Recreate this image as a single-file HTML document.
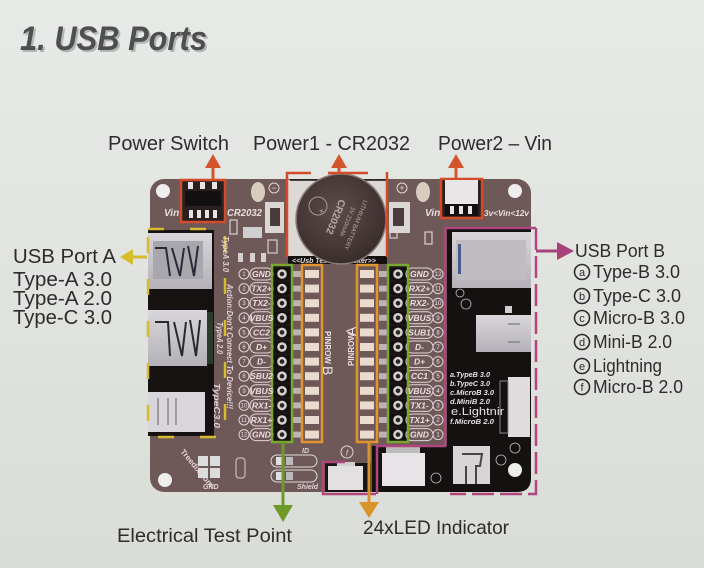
<!DOCTYPE html>
<html><head><meta charset="utf-8"><style>
html,body{margin:0;padding:0;background:#e3e5e2;}
svg{display:block;}
text{font-family:"Liberation Sans",Arial,sans-serif;}
</style></head><body>
<svg width="704" height="568" viewBox="0 0 704 568" xmlns="http://www.w3.org/2000/svg">
<defs>
<linearGradient id="bg" x1="0" y1="0" x2="0" y2="1"><stop offset="0" stop-color="#e8eae7"/><stop offset="1" stop-color="#dadcd8"/></linearGradient>
<linearGradient id="silver" x1="0" y1="0" x2="0" y2="1"><stop offset="0" stop-color="#d8d6da"/><stop offset="1" stop-color="#b4b2b8"/></linearGradient>
<radialGradient id="coin" cx="0.45" cy="0.4" r="0.6"><stop offset="0" stop-color="#5c4c4a"/><stop offset="1" stop-color="#3a2e2d"/></radialGradient>
<g id="rowL">
 <rect x="273" y="-6" width="18" height="12" fill="#151111"/>
 <circle cx="282" cy="0" r="4.8" fill="#d4d2cc"/><circle cx="282" cy="0" r="2.3" fill="#2a2424"/>
 <rect x="292" y="-3" width="9" height="6" fill="#bcb4b4"/>
 <rect x="305" y="-4" width="14" height="8" fill="#e9dccf"/>
</g>
<g id="rowR">
 <rect x="360" y="-4" width="14" height="8" fill="#e9dccf"/>
 <rect x="379" y="-3" width="9" height="6" fill="#bcb4b4"/>
 <rect x="389" y="-6" width="18" height="12" fill="#151111"/>
 <circle cx="398" cy="0" r="4.8" fill="#d4d2cc"/><circle cx="398" cy="0" r="2.3" fill="#2a2424"/>
</g>
<g id="pillL" fill="none" stroke="#e2d4d8" stroke-width="1">
 <circle cx="244" cy="0" r="5"/><rect x="250" y="-6" width="23" height="12" rx="6"/>
</g>
<g id="pillR" fill="none" stroke="#e2d4d8" stroke-width="1">
 <rect x="406" y="-6" width="27" height="12" rx="6"/><circle cx="438" cy="0" r="5"/>
</g>
</defs>

<rect x="0" y="0" width="704" height="568" fill="url(#bg)"/>

<!-- Title -->
<text x="22" y="52" font-size="34" font-weight="bold" font-style="italic" fill="#b4b6b4" textLength="187" lengthAdjust="spacingAndGlyphs">1. USB Ports</text>
<text x="20" y="50" font-size="34" font-weight="bold" font-style="italic" fill="#4e4f4f" textLength="187" lengthAdjust="spacingAndGlyphs">1. USB Ports</text>

<!-- Top labels -->
<g fill="#2c2c2c" font-size="20">
<text x="108" y="150" textLength="121" lengthAdjust="spacingAndGlyphs">Power Switch</text>
<text x="253" y="150" textLength="157" lengthAdjust="spacingAndGlyphs">Power1 - CR2032</text>
<text x="438" y="150" textLength="114" lengthAdjust="spacingAndGlyphs">Power2 – Vin</text>
<text x="13" y="263" textLength="103" lengthAdjust="spacingAndGlyphs">USB Port A</text>
<text x="13" y="286" textLength="99" lengthAdjust="spacingAndGlyphs">Type-A 3.0</text>
<text x="13" y="305" textLength="99" lengthAdjust="spacingAndGlyphs">Type-A 2.0</text>
<text x="13" y="324" textLength="99" lengthAdjust="spacingAndGlyphs">Type-C 3.0</text>
</g>
<g fill="#2c2c2c" font-size="18">
<text x="575" y="257" textLength="90" lengthAdjust="spacingAndGlyphs">USB Port B</text>
<text x="593" y="278" textLength="87" lengthAdjust="spacingAndGlyphs">Type-B 3.0</text>
<text x="593" y="302" textLength="88" lengthAdjust="spacingAndGlyphs">Type-C 3.0</text>
<text x="593" y="324" textLength="92" lengthAdjust="spacingAndGlyphs">Micro-B 3.0</text>
<text x="593" y="348" textLength="79" lengthAdjust="spacingAndGlyphs">Mini-B 2.0</text>
<text x="593" y="372" textLength="69" lengthAdjust="spacingAndGlyphs">Lightning</text>
<text x="593" y="393" textLength="90" lengthAdjust="spacingAndGlyphs">Micro-B 2.0</text>
</g>
<g fill="none" stroke="#2c2c2c" stroke-width="1.6">
<circle cx="582" cy="272" r="7.5"/><circle cx="582" cy="296" r="7.5"/><circle cx="582" cy="318" r="7.5"/>
<circle cx="582" cy="342" r="7.5"/><circle cx="582" cy="366" r="7.5"/><circle cx="582" cy="387" r="7.5"/>
</g>
<g fill="#2c2c2c" font-size="11" text-anchor="middle">
<text x="582" y="276">a</text><text x="582" y="300">b</text><text x="582" y="322">c</text>
<text x="582" y="346">d</text><text x="582" y="370">e</text><text x="582" y="391">f</text>
</g>
<g fill="#2c2c2c" font-size="19">
<text x="117" y="542" textLength="175" lengthAdjust="spacingAndGlyphs">Electrical Test Point</text>
<text x="363" y="534" textLength="146" lengthAdjust="spacingAndGlyphs">24xLED Indicator</text>
</g>

<!-- Board -->
<rect x="150" y="179" width="381" height="313" rx="14" fill="#6f5858"/>

<!-- holes & pads -->
<circle cx="163" cy="191" r="7" fill="#eeeeec"/>
<circle cx="515" cy="191" r="7" fill="#eeeeec"/>
<circle cx="165" cy="480" r="7" fill="#eeeeec"/>
<ellipse cx="258" cy="192" rx="7" ry="10" fill="#d9cdbf"/>
<ellipse cx="423" cy="192" rx="7" ry="10" fill="#d9cdbf"/>
<circle cx="274" cy="188" r="5" fill="none" stroke="#e0d4d4" stroke-width="1"/>
<text x="274" y="191" font-size="9" fill="#e0d4d4" text-anchor="middle">−</text>
<circle cx="402" cy="188" r="5" fill="none" stroke="#e0d4d4" stroke-width="1"/>
<text x="402" y="191" font-size="9" fill="#e0d4d4" text-anchor="middle">+</text>

<!-- small SMDs -->
<g fill="none" stroke="#d8d0d0" stroke-width="1.2">
<rect x="230" y="220" width="7" height="14"/>
<rect x="268" y="240" width="9" height="13"/>
<rect x="390" y="226" width="7" height="12"/>
<rect x="425" y="232" width="7" height="12"/>
</g>
<rect x="243" y="227" width="19" height="11" fill="#cfcfd2"/>
<rect x="238" y="253" width="5" height="9" fill="#d4d0d0"/>
<rect x="250" y="253" width="5" height="9" fill="#d4d0d0"/>
<rect x="261" y="253" width="5" height="9" fill="#d4d0d0"/>

<!-- Power switch -->
<rect x="181" y="180" width="44" height="42" fill="#2a2020" stroke="#d24c2a" stroke-width="2.5"/>
<rect x="188" y="182" width="5" height="7" fill="#e6e4e4"/><rect x="200" y="182" width="5" height="7" fill="#e6e4e4"/><rect x="212" y="182" width="5" height="7" fill="#e6e4e4"/>
<rect x="185" y="191" width="36" height="15" fill="#121010"/>
<rect x="189" y="210" width="4" height="8" fill="#e6e4e4"/><rect x="197" y="210" width="4" height="8" fill="#e6e4e4"/><rect x="205" y="210" width="4" height="8" fill="#e6e4e4"/><rect x="213" y="210" width="4" height="8" fill="#e6e4e4"/>
<text x="164" y="216" font-size="10" font-weight="bold" font-style="italic" fill="#e8dede">Vin</text>
<text x="227" y="216" font-size="10" font-weight="bold" font-style="italic" fill="#e8dede" textLength="35" lengthAdjust="spacingAndGlyphs">CR2032</text>

<!-- Vin connector -->
<rect x="441" y="179" width="41" height="39" fill="#2a2020" stroke="#d24c2a" stroke-width="2.5"/>
<rect x="445" y="180" width="33" height="24" fill="#e8e6e6"/>
<rect x="445" y="204" width="33" height="12" fill="#121010"/>
<rect x="450" y="206" width="4" height="8" fill="#e6e4e4"/><rect x="459" y="206" width="4" height="8" fill="#e6e4e4"/><rect x="468" y="206" width="4" height="8" fill="#e6e4e4"/>
<text x="425" y="216" font-size="10" font-weight="bold" font-style="italic" fill="#e8dede">Vin</text>
<text x="484" y="216" font-size="8" font-weight="bold" font-style="italic" fill="#e8dede" textLength="45" lengthAdjust="spacingAndGlyphs">3v&lt;Vin&lt;12v</text>

<!-- Coin holder -->
<rect x="288" y="180" width="100" height="77" fill="#dcd8d6"/>
<line x1="290" y1="180" x2="386" y2="180" stroke="#1a1414" stroke-width="1.5"/>
<rect x="265" y="202" width="19" height="31" fill="#dad6d4"/><rect x="270" y="208" width="10" height="18" fill="#4a3c3c"/>
<rect x="389" y="202" width="21" height="31" fill="#dad6d4"/><rect x="393" y="208" width="11" height="18" fill="#4a3c3c"/>
<rect x="288" y="256" width="99" height="8" fill="#141010"/>
<text x="292" y="263" font-size="7" font-weight="bold" font-style="italic" fill="#e8e0e0">&lt;&lt;Usb Tester&gt;&gt;</text>
<text x="340" y="263" font-size="7" font-weight="bold" font-style="italic" fill="#e8e0e0">Checker&gt;&gt;</text>
<circle cx="341" cy="219" r="45" fill="url(#coin)" stroke="#8c7c78" stroke-width="1.5"/>
<g transform="rotate(112 341 219)" fill="#b9aaa6" text-anchor="middle">
<text x="341" y="205" font-size="6">LITHIUM BATTERY</text>
<text x="341" y="214" font-size="6">3V 210mAh</text>
<text x="341" y="228" font-size="10" font-weight="bold">CR2032</text>
<text x="341" y="243" font-size="9">+</text>
</g>
<circle cx="318" cy="206" r="9" fill="none" stroke="#a8988f" stroke-width="1"/>
<!-- red frame -->
<g fill="none" stroke="#d24c2a" stroke-width="2.5">
<polyline points="311,173 287,173 287,257"/>
<line x1="387" y1="172" x2="387" y2="257"/>
<line x1="328" y1="173" x2="368" y2="173"/>
</g>

<!-- Left USB block -->
<rect x="148" y="230" width="66" height="206" fill="#161212"/>
<rect x="148" y="233" width="64" height="56" fill="url(#silver)"/>
<rect x="153" y="241" width="50" height="38" fill="#a9a7ad"/>
<path d="M155 248 L166 248 L170 276 M172 248 L180 276 L184 248 M188 246 L194 276 L198 246" fill="none" stroke="#2a2a3a" stroke-width="2"/>
<rect x="148" y="310" width="59" height="56" fill="url(#silver)"/>
<path d="M155 322 L168 322 L170 356 M174 322 L182 356 L186 322 M190 320 L196 356 L200 320" fill="none" stroke="#2a2a2e" stroke-width="2"/>
<rect x="207" y="312" width="6" height="52" fill="#2b3a2b"/>
<rect x="148" y="392" width="57" height="40" fill="#d8d6da"/>
<path d="M158 398 L158 425 M168 398 L168 425 M176 398 L176 425" stroke="#8a888e" stroke-width="1.5"/>
<rect x="148" y="229" width="77" height="208" fill="none" stroke="#d6ba30" stroke-width="2.5" stroke-dasharray="16 26"/>
<g fill="#e0d2d6" font-size="8" font-weight="bold" font-style="italic">
<text transform="translate(223 236) rotate(90)" textLength="36" lengthAdjust="spacingAndGlyphs">TypeA 3.0</text>
<text transform="translate(227 284) rotate(90)" textLength="125" lengthAdjust="spacingAndGlyphs">Action:Don't Connect To Device!!!</text>
<text transform="translate(217 322) rotate(90)" textLength="32" lengthAdjust="spacingAndGlyphs">TypeA 2.0</text>
<text transform="translate(214 383) rotate(90)" textLength="45" lengthAdjust="spacingAndGlyphs">TypeC3.0</text>
</g>

<!-- Pin rows boxes -->
<rect x="272" y="265" width="20" height="177" fill="#1c1616"/>
<rect x="388" y="265" width="20" height="177" fill="#1c1616"/>
<use href="#rowL" y="274"/><use href="#rowL" y="288.6"/><use href="#rowL" y="303.2"/><use href="#rowL" y="317.8"/>
<use href="#rowL" y="332.4"/><use href="#rowL" y="347"/><use href="#rowL" y="361.6"/><use href="#rowL" y="376.2"/>
<use href="#rowL" y="390.8"/><use href="#rowL" y="405.4"/><use href="#rowL" y="420"/><use href="#rowL" y="434.6"/>
<use href="#rowR" y="274"/><use href="#rowR" y="288.6"/><use href="#rowR" y="303.2"/><use href="#rowR" y="317.8"/>
<use href="#rowR" y="332.4"/><use href="#rowR" y="347"/><use href="#rowR" y="361.6"/><use href="#rowR" y="376.2"/>
<use href="#rowR" y="390.8"/><use href="#rowR" y="405.4"/><use href="#rowR" y="420"/><use href="#rowR" y="434.6"/>
<use href="#pillL" y="274"/><use href="#pillL" y="288.6"/><use href="#pillL" y="303.2"/><use href="#pillL" y="317.8"/>
<use href="#pillL" y="332.4"/><use href="#pillL" y="347"/><use href="#pillL" y="361.6"/><use href="#pillL" y="376.2"/>
<use href="#pillL" y="390.8"/><use href="#pillL" y="405.4"/><use href="#pillL" y="420"/><use href="#pillL" y="434.6"/>
<use href="#pillR" y="274"/><use href="#pillR" y="288.6"/><use href="#pillR" y="303.2"/><use href="#pillR" y="317.8"/>
<use href="#pillR" y="332.4"/><use href="#pillR" y="347"/><use href="#pillR" y="361.6"/><use href="#pillR" y="376.2"/>
<use href="#pillR" y="390.8"/><use href="#pillR" y="405.4"/><use href="#pillR" y="420"/><use href="#pillR" y="434.6"/>
<rect x="272" y="265" width="20" height="177" fill="none" stroke="#7aa632" stroke-width="2.5"/>
<rect x="302" y="265" width="20" height="177" fill="none" stroke="#e0952e" stroke-width="2.5"/>
<rect x="357" y="265" width="20" height="177" fill="none" stroke="#e0952e" stroke-width="2.5"/>
<rect x="388" y="265" width="20" height="177" fill="none" stroke="#7aa632" stroke-width="2.5"/>

<g fill="#ebdfe2" font-size="8.5" font-weight="bold" font-style="italic" text-anchor="middle">
<text x="261.5" y="277">GND</text><text x="261.5" y="291.6">TX2+</text><text x="261.5" y="306.2">TX2-</text><text x="261.5" y="320.8">VBUS</text>
<text x="261.5" y="335.4">CC2</text><text x="261.5" y="350">D+</text><text x="261.5" y="364.6">D-</text><text x="261.5" y="379.2">SBU2</text>
<text x="261.5" y="393.8">VBUS</text><text x="261.5" y="408.4">RX1-</text><text x="261.5" y="423">RX1+</text><text x="261.5" y="437.6">GND</text>
<text x="419.5" y="277">GND</text><text x="419.5" y="291.6">RX2+</text><text x="419.5" y="306.2">RX2-</text><text x="419.5" y="320.8">VBUS</text>
<text x="419.5" y="335.4">SUB1</text><text x="419.5" y="350">D-</text><text x="419.5" y="364.6">D+</text><text x="419.5" y="379.2">CC1</text>
<text x="419.5" y="393.8">VBUS</text><text x="419.5" y="408.4">TX1-</text><text x="419.5" y="423">TX1+</text><text x="419.5" y="437.6">GND</text>
</g>
<g fill="#ebdfe2" font-size="6" text-anchor="middle">
<text x="244" y="276">1</text><text x="244" y="290.6">2</text><text x="244" y="305.2">3</text><text x="244" y="319.8">4</text>
<text x="244" y="334.4">5</text><text x="244" y="349">6</text><text x="244" y="363.6">7</text><text x="244" y="378.2">8</text>
<text x="244" y="392.8">9</text><text x="244" y="407.4">10</text><text x="244" y="422">11</text><text x="244" y="436.6">12</text>
<text x="438" y="276">12</text><text x="438" y="290.6">11</text><text x="438" y="305.2">10</text><text x="438" y="319.8">9</text>
<text x="438" y="334.4">8</text><text x="438" y="349">7</text><text x="438" y="363.6">6</text><text x="438" y="378.2">5</text>
<text x="438" y="392.8">4</text><text x="438" y="407.4">3</text><text x="438" y="422">2</text><text x="438" y="436.6">1</text>
</g>
<g fill="#ebdfe2">
<text transform="translate(325 331) rotate(90)" font-size="8" font-weight="bold">PINROW</text>
<text transform="translate(323 366) rotate(90)" font-size="14">B</text>
<text transform="translate(354 366) rotate(-90)" font-size="8" font-weight="bold">PINROW</text>
<text transform="translate(356 336) rotate(-90)" font-size="14">A</text>
</g>

<!-- Right module -->
<path d="M447 228 L531 228 L531 478 Q531 492 517 492 L372 492 L372 446 L447 446 Z" fill="#151111"/>
<rect x="452" y="232" width="79" height="56" fill="url(#silver)"/>
<rect x="456" y="240" width="70" height="40" fill="#bfbdc2"/>
<rect x="458" y="244" width="3" height="30" fill="#4a5a8a"/>
<circle cx="460" cy="293" r="4" fill="none" stroke="#bbb" stroke-width="0.8"/>
<circle cx="466" cy="304" r="5" fill="none" stroke="#bbb" stroke-width="0.8"/>
<rect x="505" y="306" width="7" height="7" fill="#cfcfcf"/>
<rect x="476" y="315" width="55" height="37" fill="url(#silver)"/>
<path d="M508 324 L520 324 M508 342 L520 342" stroke="#888" stroke-width="1.5"/>
<rect x="508" y="377" width="22" height="60" fill="#dedcdc"/>
<rect x="500" y="381" width="8" height="52" fill="none" stroke="#888" stroke-width="1"/>
<g fill="#e6e0e4" font-size="7.5" font-weight="bold" font-style="italic">
<text x="450" y="377" textLength="40" lengthAdjust="spacingAndGlyphs">a.TypeB 3.0</text>
<text x="450" y="386" textLength="40" lengthAdjust="spacingAndGlyphs">b.TypeC 3.0</text>
<text x="450" y="395" textLength="44" lengthAdjust="spacingAndGlyphs">c.MicroB 3.0</text>
<text x="450" y="404" textLength="40" lengthAdjust="spacingAndGlyphs">d.MiniB 2.0</text>
<text x="451" y="415" font-size="11" font-weight="normal" font-style="normal" textLength="53" lengthAdjust="spacingAndGlyphs">e.Lightnir</text>
<text x="450" y="424" textLength="44" lengthAdjust="spacingAndGlyphs">f.MicroB 2.0</text>
</g>
<rect x="453" y="446" width="37" height="38" fill="#d6d4d4"/>
<path d="M462 454 L482 454 L480 466 L476 466 L476 484 M466 466 L466 484" fill="none" stroke="#4a4446" stroke-width="2"/>
<circle cx="515" cy="470" r="7" fill="#eeeeec"/>
<circle cx="501" cy="460" r="5" fill="none" stroke="#bbb" stroke-width="0.8"/>
<circle cx="515" cy="448" r="5" fill="none" stroke="#bbb" stroke-width="0.8"/>
<rect x="382" y="453" width="43" height="33" fill="#e6e4e6"/>
<rect x="386" y="447" width="34" height="6" fill="#bcbcbc"/>
<circle cx="436" cy="478" r="5" fill="none" stroke="#bbb" stroke-width="0.8"/>
<!-- micro-B f -->
<rect x="325" y="463" width="46" height="29" fill="#1a1414"/>
<rect x="328" y="466" width="35" height="24" fill="#e2e0e0"/>
<rect x="337" y="462" width="18" height="4" fill="#d0d0d0"/>
<circle cx="347" cy="452" r="6" fill="none" stroke="#e0d4d4" stroke-width="1"/>
<text x="347" y="455.5" font-size="8" font-style="italic" fill="#e0d4d4" text-anchor="middle">f</text>

<!-- pink frame -->
<g fill="none" stroke="#b0467e" stroke-width="2.5">
<polyline points="445,440 445,228 536,228"/>
<polyline points="536,228 536,494 450,494" stroke-dasharray="22 6"/>
<polyline points="377,494 377,446 445,446 445,440"/>
<polyline points="345,462 323,462 323,494 376,494"/>
</g>

<!-- bottom left details -->
<text transform="translate(180 452) rotate(50)" font-size="8" font-weight="bold" fill="#e0d4d8">Treedix.com</text>
<rect x="198" y="456" width="10" height="10" fill="#dcdcdc"/><rect x="210" y="456" width="10" height="10" fill="#dcdcdc"/>
<rect x="198" y="468" width="10" height="10" fill="#dcdcdc"/><rect x="210" y="468" width="10" height="10" fill="#dcdcdc"/>
<text x="203" y="489" font-size="7" font-weight="bold" font-style="italic" fill="#e0d4d8">GND</text>
<rect x="236" y="458" width="9" height="20" rx="3" fill="none" stroke="#d8d0d0" stroke-width="1"/>
<g fill="none" stroke="#ddd" stroke-width="1">
<rect x="271" y="455" width="46" height="12" rx="6"/><rect x="271" y="470" width="46" height="12" rx="6"/>
</g>
<rect x="276" y="457" width="7" height="8" fill="#e0e0e0"/><rect x="286" y="457" width="7" height="8" fill="#bbb"/>
<rect x="276" y="472" width="7" height="8" fill="#e0e0e0"/><rect x="286" y="472" width="7" height="8" fill="#bbb"/>
<text x="302" y="453" font-size="7" font-weight="bold" font-style="italic" fill="#e0d4d8">ID</text>
<text x="297" y="489" font-size="7" font-weight="bold" font-style="italic" fill="#e0d4d8">Shield</text>

<!-- Arrows -->
<g stroke-width="3">
<line x1="213" y1="180" x2="213" y2="166" stroke="#d4552b"/>
<line x1="339" y1="173" x2="339" y2="166" stroke="#d4552b"/>
<line x1="456" y1="179" x2="456" y2="166" stroke="#d4552b"/>
<line x1="147" y1="257" x2="131" y2="257" stroke="#d6bd2c"/>
<line x1="536" y1="251" x2="558" y2="251" stroke="#a8427a"/>
<line x1="283" y1="442" x2="283" y2="506" stroke="#6f9a2a"/>
<line x1="369" y1="442" x2="369" y2="503" stroke="#d9952a"/>
</g>
<polygon points="205,168 221,168 213,154" fill="#d4552b"/>
<polygon points="331,168 347,168 339,154" fill="#d4552b"/>
<polygon points="448,168 464,168 456,154" fill="#d4552b"/>
<polygon points="133,249 133,265 120,257" fill="#d6bd2c"/>
<polygon points="557,242 557,260 574,251" fill="#a8427a"/>
<polygon points="273,505 293,505 283,522" fill="#6f9a2a"/>
<polygon points="359,502 379,502 369,518" fill="#d9952a"/>
</svg>
</body></html>
